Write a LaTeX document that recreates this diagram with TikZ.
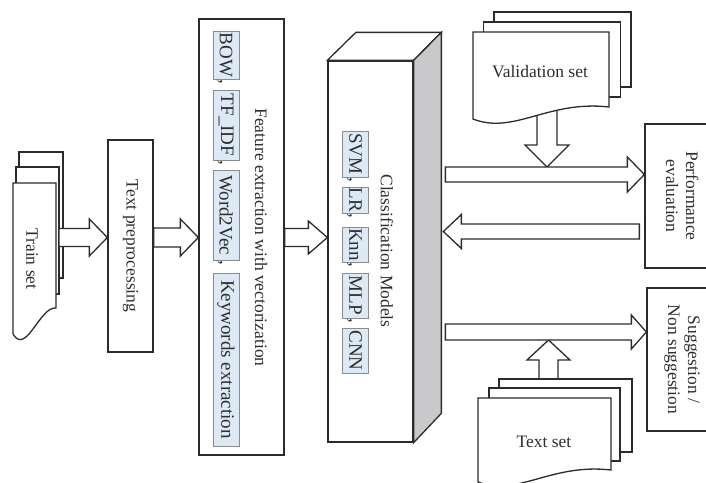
\documentclass[tikz,border=0pt]{standalone}
\usepackage{fontspec}
\setmainfont{Liberation Serif}
\usepackage{graphicx}
\usetikzlibrary{calc}

\definecolor{linec}{HTML}{2B2B2B}
\definecolor{textc}{HTML}{2E2E2E}
\definecolor{tagfill}{HTML}{DDEAF6}
\definecolor{tagdraw}{HTML}{8C8C8C}
\definecolor{sidegray}{HTML}{C9C9CB}

% block arrow from #1 to #2: shaft half width #3, head half width #4, head length #5
\newcommand{\fatarrow}[5]{%
  \draw[fatline] let \p1=#1, \p2=#2,
      \n1={atan2(\y2-\y1,\x2-\x1)}, \n2={veclen(\x2-\x1,\y2-\y1)} in
    [shift={(\p1)}, rotate=\n1]
    (0pt,#3pt) -- ({\n2-#5pt},#3pt) -- ({\n2-#5pt},#4pt) -- ({\n2*1pt},0pt)
    -- ({\n2-#5pt},-#4pt) -- ({\n2-#5pt},-#3pt) -- (0pt,-#3pt) -- cycle;%
}

\begin{document}
\begin{tikzpicture}[
    x=1pt, y=-1pt,
    font=\fontsize{17.5}{20}\selectfont,
    text=textc,
    box/.style={draw=linec, line width=1.3pt, fill=white, inner sep=0pt},
    sheet/.style={draw=linec, line width=1.3pt, fill=white},
    tag/.style={draw=tagdraw, line width=0.6pt, fill=tagfill, minimum width=26,
        inner sep=0pt, font=\fontsize{19}{20}\selectfont},
    comma/.style={inner sep=0pt, font=\fontsize{19}{20}\selectfont},
    fatline/.style={draw=linec, line width=1.3pt, fill=white, line join=miter}
]
    \useasboundingbox (0,0) rectangle (706,482);
    \clip (0,0) rectangle (706,482);

    % rows of the block arrows
    \coordinate (mainrow) at (0,237.5);
    \coordinate (evalrow) at (0,174.5);
    \coordinate (backrow) at (0,231.5);
    \coordinate (suggrow) at (0,332);

    % === 1. Train Set ===
    \draw[sheet] (19,152) rectangle (63,278);
    \draw[sheet] (16,167) rectangle (59,294);
    \draw[sheet] (13,183) -- (56,183) -- (56,308)
        .. controls (40,306) and (26,356) .. (13,334) -- cycle;
    \node (train) at (32,259) {\rotatebox{-90}{Train set}};
    \coordinate (trainout) at (59,237.5);

    % === 2. Text Preprocessing ===
    \node[box, minimum width=45, minimum height=212] (prep) at (130.5,246)
        {\rotatebox{-90}{Text preprocessing}};

    % === 3. Feature Extraction ===
    \node[box, minimum width=85, minimum height=436] (feat) at (241.5,237) {};
    \node (featlbl) at (261,237.5) {\rotatebox{-90}{Feature extraction with vectorization}};

    % Highlighted methods
    \node[tag, minimum height=48] (bow) at (226,55) {\rotatebox{-90}{BOW}};
    \node[tag, minimum height=70] (tfidf) at (226,125) {\rotatebox{-90}{TF\_IDF}};
    \node[tag, minimum height=90] (wvec) at (226,215) {\rotatebox{-90}{Word2Vec}};
    \node[tag, minimum height=173] (kwd) at (226,359.5) {\rotatebox{-90}{Keywords extraction}};
    \foreach \t in {bow,tfidf,wvec}
        \node[comma, anchor=north] at ([xshift=-6pt]\t.south) {\rotatebox{-90}{,}};

    % === 4. Classification Models ===
    \node[box, minimum width=85, minimum height=381] (clf) at (370.5,251.5) {};
    \draw[box] (clf.north west) -- ++(28.5,-28) -- ++(85.5,0) coordinate (sideR)
        -- (clf.north east) -- cycle;
    \draw[box, fill=sidegray] (clf.north east) -- (sideR) -- ++(0,381)
        -- (clf.south east) -- cycle;
    \node (clflbl) at (387,251) {\rotatebox{-90}{Classification Models}};
    \coordinate (outcol) at ($(sideR)+(4,0)$);

    % Highlighted models
    \node[tag, minimum height=46] (svm) at (355.5,154) {\rotatebox{-90}{SVM}};
    \node[tag, minimum height=26] (lr) at (355.5,200) {\rotatebox{-90}{LR}};
    \node[tag, minimum height=35] (knn) at (355.5,244.5) {\rotatebox{-90}{Knn}};
    \node[tag, minimum height=45] (mlp) at (355.5,295.5) {\rotatebox{-90}{MLP}};
    \node[tag, minimum height=45] (cnn) at (355.5,350.5) {\rotatebox{-90}{CNN}};
    \foreach \t in {svm,lr,knn,mlp}
        \node[comma, anchor=north] at ([xshift=-6pt]\t.south) {\rotatebox{-90}{,}};

    % === 5. Outputs ===
    \node[box, minimum width=70, minimum height=144] (eval) at (680,196)
        {\rotatebox{-90}{\begin{tabular}{@{}c@{}}Performance\\evaluation\end{tabular}}};
    \node[box, minimum width=70, minimum height=143] (sugg) at (682,359.5)
        {\rotatebox{-90}{\begin{tabular}{@{}c@{}}Suggestion /\\Non suggestion\end{tabular}}};

    % === 6. Validation Set ===
    \coordinate (valout) at (547,105);
    \fatarrow{(valout)}{($(valout |- evalrow)+(0,-7.5)$)}{10}{22}{22}
    \draw[sheet] (494,12) rectangle (631,87);
    \draw[sheet] (483.5,22) rectangle (620.5,97);
    \draw[sheet] (473,32) -- (609,32) -- (609,107)
        .. controls (548,100) and (514,135) .. (473,119) -- cycle;
    \node (val) at (540,72) {Validation set};

    % === 7. Text Set ===
    \coordinate (testout) at (548.5,385);
    \fatarrow{(testout)}{($(testout |- suggrow)+(0,8)$)}{9.5}{21.5}{20}
    \draw[sheet] (499,379) rectangle (632,452);
    \draw[sheet] (489,388) rectangle (620,461);
    \draw[sheet] (478,398) -- (611,398) -- (611,470)
        .. controls (551,463) and (518,497) .. (478,482) -- cycle;
    \node (test) at (544,442) {Text set};

    % === 8. Block Arrows ===
    \fatarrow{(trainout)}{(prep.west |- mainrow)}{9}{18.5}{18}
    \fatarrow{(prep.east |- mainrow)}{(feat.west |- mainrow)}{9.5}{18.5}{18}
    \fatarrow{(feat.east |- mainrow)}{(clf.west |- mainrow)}{9}{16.5}{19}
    \fatarrow{(outcol |- evalrow)}{(eval.west |- evalrow)}{7.5}{17.5}{17}
    \fatarrow{($(eval.west |- backrow)+(-5,0)$)}{($(sideR |- backrow)+(2,0)$)}{7.5}{17}{18}
    \fatarrow{(outcol |- suggrow)}{(sugg.west |- suggrow)}{8}{17}{15}

\end{tikzpicture}
\end{document}
